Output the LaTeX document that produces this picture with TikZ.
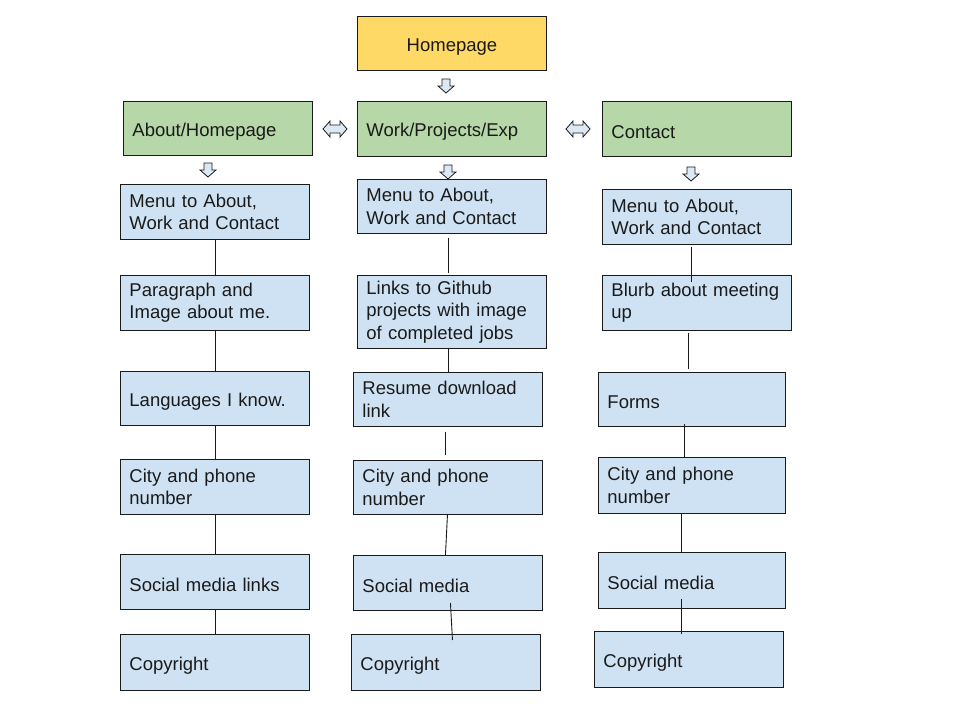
\documentclass[tikz,border=0pt]{standalone}
\usepackage{fontspec}
\setmainfont{Liberation Sans}
\usetikzlibrary{calc}
\definecolor{yel}{HTML}{FFD966}
\definecolor{grn}{HTML}{B6D7A8}
\definecolor{blu}{HTML}{CFE2F3}
\definecolor{arr}{HTML}{DCE9F5}
\definecolor{ink}{HTML}{1A1A1A}
\newcommand{\upstrut}{\rule{0pt}{19pt}}
\begin{document}
\begin{tikzpicture}[x=1pt,y=-1pt,
  bx/.style n args={3}{draw=ink, line width=0.9pt, anchor=north west,
    minimum width=#1, minimum height=#2, text width=#3, align=left,
    inner xsep=9pt, inner ysep=0pt, text=ink,
    font=\fontsize{18.5}{22.5}\selectfont},
  conn/.style={draw=ink, line width=0.9pt},
  arrsty/.style={draw=ink, line width=0.8pt, fill=arr, line join=miter},
  downarr/.pic={\draw[arrsty] (-4,-7) -- (4,-7) -- (4,0) -- (8,0) -- (0,7) -- (-8,0) -- (-4,0) -- cycle;},
  dblarr/.pic={\draw[arrsty] (-12,0) -- (-5,-8) -- (-5,-4) -- (5,-4) -- (5,-8) -- (12,0) -- (5,8) -- (5,4) -- (-5,4) -- (-5,8) -- cycle;}
]
\useasboundingbox[fill=white] (0,0) rectangle (960,720);

% top level
\node[bx={189pt}{54pt}{171pt}, fill=yel, align=center] (home) at (357,16) {\upstrut Homepage};
\node[bx={189pt}{54pt}{171pt}, fill=grn] (about) at (123,101) {\upstrut About/Homepage};
\node[bx={189pt}{55pt}{171pt}, fill=grn] (work) at (357,101) {\upstrut Work/Projects/Exp};
\node[bx={189pt}{55pt}{171pt}, fill=grn] (contact) at (602,101) {\upstrut Contact};

% left column
\node[bx={189pt}{55pt}{171pt}, fill=blu] (l1) at (120,184) {Menu to About,\\Work and Contact};
\node[bx={189pt}{55pt}{171pt}, fill=blu] (l2) at (120,275) {Paragraph and\\Image about me.};
\node[bx={189pt}{54pt}{171pt}, fill=blu] (l3) at (120,371) {\upstrut Languages I know.};
\node[bx={189pt}{55pt}{171pt}, fill=blu] (l4) at (120,459) {City and phone\\number};
\node[bx={189pt}{55pt}{171pt}, fill=blu] (l5) at (120,554) {\upstrut Social media links};
\node[bx={189pt}{56pt}{171pt}, fill=blu] (l6) at (120,634) {\upstrut Copyright};

% middle column
\node[bx={189pt}{54pt}{171pt}, fill=blu] (m1) at (357,179) {Menu to About,\\Work and Contact};
\node[bx={189pt}{73pt}{171pt}, fill=blu] (m2) at (357,275) {Links to Github\\projects with image\\of completed jobs};
\node[bx={189pt}{54pt}{171pt}, fill=blu] (m3) at (353,372) {Resume download\\link};
\node[bx={189pt}{54pt}{171pt}, fill=blu] (m4) at (353,460) {City and phone\\number};
\node[bx={189pt}{55pt}{171pt}, fill=blu] (m5) at (353,555) {\upstrut Social media};
\node[bx={189pt}{56pt}{171pt}, fill=blu] (m6) at (351,634) {\upstrut Copyright};

% right column
\node[bx={189pt}{55pt}{171pt}, fill=blu] (r1) at (602,189) {Menu to About,\\Work and Contact};
\node[bx={189pt}{55pt}{171pt}, fill=blu] (r2) at (602,275) {Blurb about meeting\\up};
\node[bx={187pt}{54pt}{169pt}, fill=blu] (r3) at (598,372) {\upstrut Forms};
\node[bx={187pt}{56pt}{169pt}, fill=blu] (r4) at (598,457) {City and phone\\number};
\node[bx={187pt}{56pt}{169pt}, fill=blu] (r5) at (598,552) {\upstrut Social media};
\node[bx={189pt}{56pt}{171pt}, fill=blu] (r6) at (594,631) {\upstrut Copyright};

% block arrows
\pic at (446,86) {downarr};
\pic at (208,170) {downarr};
\pic at (448,172) {downarr};
\pic at (691,174) {downarr};
\pic at (335,129) {dblarr};
\pic at (578,129) {dblarr};

% connectors left
\draw[conn] (l1.south) -- (l2.north);
\draw[conn] (l2.south) -- (l3.north);
\draw[conn] (l3.south) -- (l4.north);
\draw[conn] (l4.south) -- (l5.north);
\draw[conn] (l5.south) -- (l6.north);

% connectors middle
\draw[conn] ($(m1.south)+(-3.5,4)$) -- ($(m2.north)+(-3.5,-2)$);
\draw[conn] ($(m2.south)+(-3.5,0)$) -- ($(m3.north)+(0.5,0)$);
\draw[conn] ($(m3.south)+(-2.5,5)$) -- ($(m4.north)+(-2.5,-5)$);
\draw[conn] ($(m4.south)+(-0.5,0)$) -- ($(m5.north)+(-2.5,0)$);
\draw[conn] ($(m5.south)+(2.5,-8)$) -- ($(m6.north)+(6.5,6)$);

% connectors right
\draw[conn] ($(r1.south)+(-5.5,2)$) -- ($(r2.north)+(-5.5,7)$);
\draw[conn] ($(r2.south)+(-8.5,2)$) -- ($(r3.north)+(-3.5,-3)$);
\draw[conn] ($(r3.south)+(-7.5,-3)$) -- ($(r4.north)+(-7.5,1)$);
\draw[conn] ($(r4.south)+(-10.5,0)$) -- ($(r5.north)+(-10.5,0)$);
\draw[conn] ($(r5.south)+(-10.5,-10)$) -- ($(r6.north)+(-7.5,3)$);
\end{tikzpicture}
\end{document}
